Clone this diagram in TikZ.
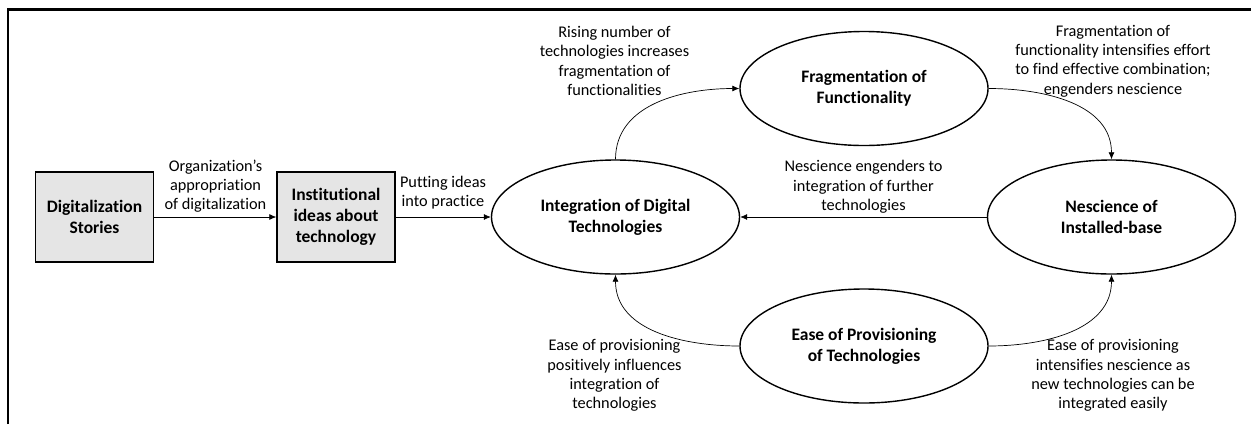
\documentclass[tikz,border=0pt]{standalone}
\usepackage{fontspec}
\setmainfont[Ligatures=NoCommon]{Carlito}
\usetikzlibrary{arrows.meta,shapes.geometric}
\begin{document}
\begin{tikzpicture}[x=1pt,y=-1pt,
  box/.style={draw,line width=1.4pt,fill=black!10,minimum width=118pt,minimum height=90pt,
    font=\fontsize{17.5}{21}\selectfont\bfseries,align=center,inner sep=0pt},
  oval/.style={draw,ellipse,line width=1.4pt,minimum width=248pt,minimum height=114pt,
    font=\fontsize{17.5}{21}\selectfont\bfseries,align=center,inner sep=0pt},
  lbl/.style={font=\fontsize{16.3}{19.3}\selectfont,align=center,inner sep=0pt},
  conn/.style={line width=0.7pt,-{Latex[length=7pt,width=6pt]}}]
\useasboundingbox (0,0) rectangle (1251,424);
% partial frame: left and top edges only
\draw[line width=2.4pt] (7.8,424) -- (7.8,9.5) -- (1251,9.5);

\node[box] (stories) at (94.5,217) {Digitalization\\Stories};
\node[box] (ideas) at (336,217) {Institutional\\ideas about\\technology};

\node[oval] (integ) at (615.5,217) {Integration of Digital\\Technologies};
\node[oval] (frag) at (864,88.5) {Fragmentation of\\Functionality};
\node[oval] (nesc) at (1111.5,217) {Nescience of\\Installed-base};
\node[oval] (ease) at (864,346) {Ease of Provisioning\\of Technologies};

\draw[conn] (stories) -- (ideas);
\draw[conn] (ideas) -- (integ);
\draw[conn] (nesc) -- (integ);
\draw[conn] (integ.north) to[out=90,in=180] (frag.west);
\draw[conn] (frag.east) to[out=0,in=90] (nesc.north);
\draw[conn] (ease.west) to[out=180,in=-90] (integ.south);
\draw[conn] (ease.east) to[out=0,in=-90] (nesc.south);

\node[lbl] (l1) at (215.5,186) {Organization’s\\appropriation\\of digitalization};
\node[lbl] (l2) at (443,192.5) {Putting ideas\\into practice};
\node[lbl] (l3) at (614.5,61) {Rising number of\\technologies increases\\fragmentation of\\functionalities};
\node[lbl] (l4) at (1113,61) {Fragmentation of\\functionality intensifies effort\\to find effective combination;\\engenders nescience};
\node[lbl] (l5) at (863.5,187) {Nescience engenders to\\integration of further\\technologies};
\node[lbl] (l6) at (614.5,375.5) {Ease of provisioning\\positively influences\\integration of\\technologies};
\node[lbl] (l7) at (1113,375.5) {Ease of provisioning\\intensifies nescience as\\new technologies can be\\integrated easily};
\end{tikzpicture}
\end{document}
